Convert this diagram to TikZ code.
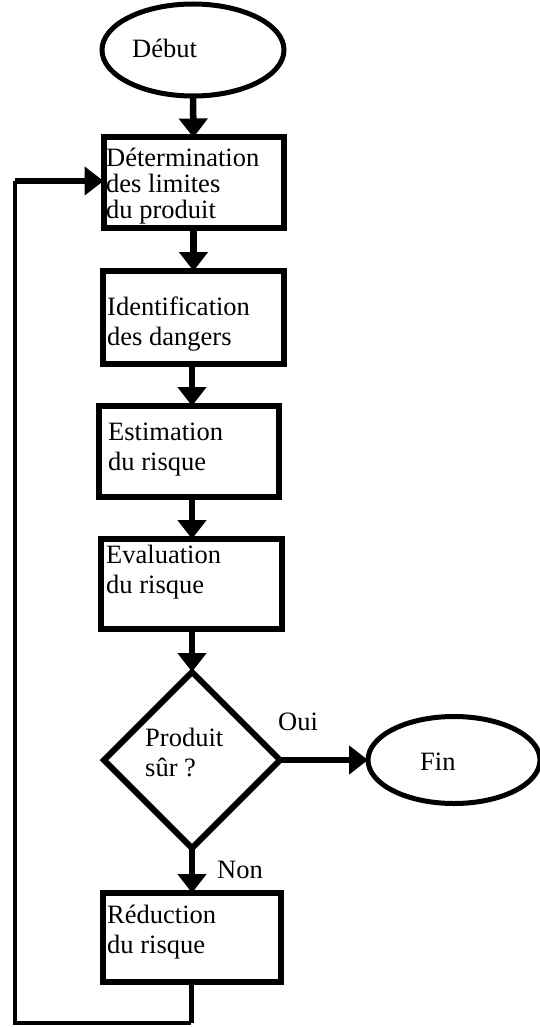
\documentclass[tikz,border=0pt]{standalone}
\usepackage{fontspec}
\setmainfont{Liberation Serif}
\usetikzlibrary{arrows.meta,shapes.geometric}
\newcommand{\lignes}[1]{\begin{tabular}[t]{@{}l@{}}#1\end{tabular}}
\begin{document}
\begin{tikzpicture}[x=1pt,y=-1pt,
  box/.style={draw,line width=6pt,rectangle,inner sep=0pt,outer sep=0pt},
  oval/.style={draw,line width=5pt,ellipse,inner sep=0pt,outer sep=0pt},
  losange/.style={draw,line width=6pt,diamond,inner sep=0pt,outer sep=0pt},
  txt/.style={anchor=base west,inner sep=0pt,font=\fontsize{26.5}{30}\selectfont},
  arr/.style={line width=6.5pt,-{Triangle[width=28pt,length=19pt]}},
  loopl/.style={line width=3.5pt}]
\useasboundingbox (0,0) rectangle (539,1027);
\fill[white] (0,0) rectangle (539,1027);
% shapes
\node[oval,minimum width=182pt,minimum height=92pt] (debut) at (193,50) {};
\node[box,minimum width=180pt,minimum height=90pt] (b1) at (193.5,182.5) {};
\node[box,minimum width=181pt,minimum height=93pt] (b2) at (193.5,317.5) {};
\node[box,minimum width=180pt,minimum height=91pt] (b3) at (189,451.5) {};
\node[box,minimum width=181pt,minimum height=90pt] (b4) at (191.5,584) {};
\node[losange,minimum width=176pt,minimum height=176pt] (q) at (192,760) {};
\node[oval,minimum width=172pt,minimum height=87pt] (fin) at (454,760) {};
\node[box,minimum width=178pt,minimum height=89pt] (b5) at (192,937.5) {};
% texts
\node[txt] (tdebut) at (132,58) {Début};
\node[txt,font=\fontsize{26.5}{25}\selectfont] (t1) at (106,167) {\lignes{Détermination\\des limites\\du produit}};
\node[txt] (t2) at (107,315) {\lignes{Identification\\des dangers}};
\node[txt] (t3) at (108,440) {\lignes{Estimation\\du risque}};
\node[txt] (t4) at (106,563) {\lignes{Evaluation\\du risque}};
\node[txt] (tq) at (145,746) {\lignes{Produit\\sûr ?}};
\node[txt] (tfin) at (420,770) {Fin};
\node[txt] (t5) at (107,923) {\lignes{Réduction\\du risque}};
\node[txt] (toui) at (278,730) {Oui};
\node[txt] (tnon) at (217,878) {Non};
% connectors
\coordinate (m) at (192,0);
\draw[arr] (debut.south) -- (b1.north);
\draw[arr] (b1.south) -- (b2.north);
\draw[arr] (b2.south -| m) -- (b3.north -| m);
\draw[arr] (b3.south -| m) -- (b4.north -| m);
\draw[arr] (b4.south -| m) -- (q.north);
\draw[arr] (q.east) -- (fin.west);
\draw[arr] (q.south) -- (b5.north);
\coordinate (c1) at (191,1023);
\coordinate (c2) at (15,1023);
\coordinate (c3) at (15,181);
\draw[line width=5pt] (b5.south -| c1) -- (c1);
\draw[loopl] (c1) -- (c2) -- (c3);
\draw[arr] (c3) -- (b1.west |- c3);
\end{tikzpicture}
\end{document}
